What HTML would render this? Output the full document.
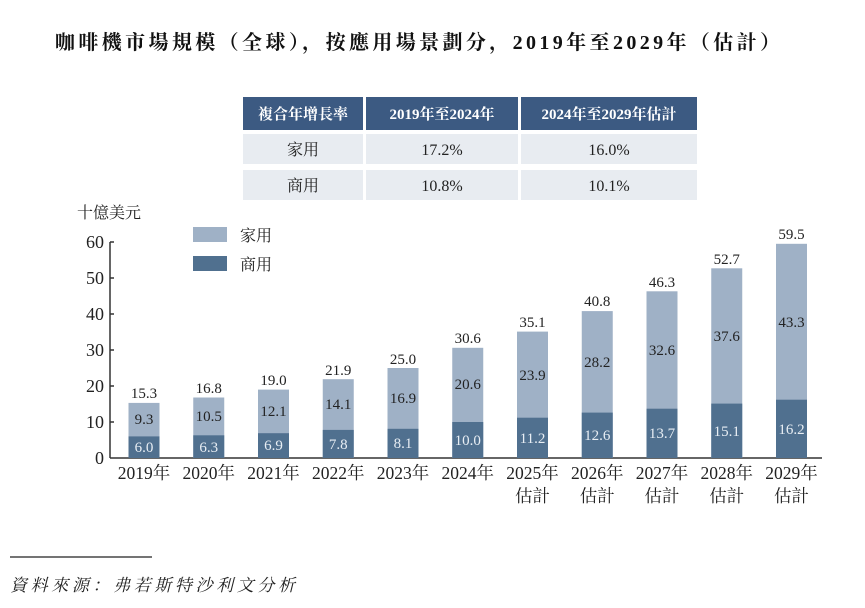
<!DOCTYPE html>
<html><head><meta charset="utf-8"><style>
body{margin:0;background:#fff;}
svg text{font-family:"Liberation Serif","Noto Serif CJK SC",serif;}
</style></head><body>
<svg width="865" height="603" xmlns="http://www.w3.org/2000/svg">
<text x="55" y="49" font-size="20" font-weight="bold" fill="#111" textLength="725" lengthAdjust="spacing">咖啡機市場規模（全球），按應用場景劃分，2019年至2029年（估計）</text>
<!-- table -->
<rect x="243" y="97" width="120" height="33" fill="#3c5a82"/>
<rect x="366" y="97" width="152" height="33" fill="#3c5a82"/>
<rect x="521" y="97" width="176" height="33" fill="#3c5a82"/>
<g font-size="15" font-weight="bold" fill="#fff" text-anchor="middle">
<text x="303" y="119">複合年增長率</text><text x="442" y="119">2019年至2024年</text><text x="609" y="119">2024年至2029年估計</text></g>
<rect x="243" y="134" width="120" height="30" fill="#e8ecf1"/>
<rect x="366" y="134" width="152" height="30" fill="#e8ecf1"/>
<rect x="521" y="134" width="176" height="30" fill="#e8ecf1"/>
<rect x="243" y="170" width="120" height="30" fill="#e8ecf1"/>
<rect x="366" y="170" width="152" height="30" fill="#e8ecf1"/>
<rect x="521" y="170" width="176" height="30" fill="#e8ecf1"/>
<g font-size="16" fill="#222" text-anchor="middle">
<text x="303" y="155">家用</text><text x="442" y="155">17.2%</text><text x="609" y="155">16.0%</text>
<text x="303" y="191">商用</text><text x="442" y="191">10.8%</text><text x="609" y="191">10.1%</text></g>
<!-- axis -->
<text x="77" y="218" font-size="16" fill="#222">十億美元</text>
<line x1="110" y1="242" x2="110" y2="458" stroke="#333" stroke-width="1.5"/>
<line x1="110" y1="458" x2="822" y2="458" stroke="#333" stroke-width="1.5"/>
<g stroke="#333" stroke-width="1.5"><line x1="110" y1="242" x2="114" y2="242"/><line x1="110" y1="278" x2="114" y2="278"/><line x1="110" y1="314" x2="114" y2="314"/><line x1="110" y1="350" x2="114" y2="350"/><line x1="110" y1="386" x2="114" y2="386"/><line x1="110" y1="422" x2="114" y2="422"/></g>
<g font-size="18" fill="#222" text-anchor="end">
<text x="104" y="248">60</text><text x="104" y="284">50</text><text x="104" y="320">40</text><text x="104" y="356">30</text><text x="104" y="392">20</text><text x="104" y="428">10</text><text x="104" y="464">0</text></g>
<!-- legend -->
<rect x="193" y="227" width="34" height="15" fill="#9fb1c6"/>
<rect x="193" y="256" width="34" height="15" fill="#50708f"/>
<text x="240" y="241" font-size="16" fill="#222">家用</text>
<text x="240" y="270" font-size="16" fill="#222">商用</text>
<!-- bars -->
<g fill="#9fb1c6">
<rect x="128.5" y="402.9" width="31" height="55.1"/>
<rect x="193.25" y="397.5" width="31" height="60.5"/>
<rect x="258" y="389.6" width="31" height="68.4"/>
<rect x="322.75" y="379.2" width="31" height="78.8"/>
<rect x="387.5" y="368" width="31" height="90"/>
<rect x="452.25" y="347.8" width="31" height="110.2"/>
<rect x="517" y="331.6" width="31" height="126.4"/>
<rect x="581.75" y="311.1" width="31" height="146.9"/>
<rect x="646.5" y="291.3" width="31" height="166.7"/>
<rect x="711.25" y="268.3" width="31" height="189.7"/>
<rect x="776" y="243.8" width="31" height="214.2"/>
</g>
<g fill="#50708f">
<rect x="128.5" y="436.4" width="31" height="21.6"/>
<rect x="193.25" y="435.3" width="31" height="22.7"/>
<rect x="258" y="433.2" width="31" height="24.8"/>
<rect x="322.75" y="429.9" width="31" height="28.1"/>
<rect x="387.5" y="428.8" width="31" height="29.2"/>
<rect x="452.25" y="422" width="31" height="36"/>
<rect x="517" y="417.7" width="31" height="40.3"/>
<rect x="581.75" y="412.6" width="31" height="45.4"/>
<rect x="646.5" y="408.7" width="31" height="49.3"/>
<rect x="711.25" y="403.6" width="31" height="54.4"/>
<rect x="776" y="399.7" width="31" height="58.3"/>
</g>
<g font-size="15" fill="#222" text-anchor="middle">
<text x="144" y="398">15.3</text><text x="208.75" y="393">16.8</text><text x="273.5" y="385">19.0</text><text x="338.25" y="375">21.9</text><text x="403" y="364">25.0</text><text x="467.75" y="343">30.6</text><text x="532.5" y="327">35.1</text><text x="597.25" y="306">40.8</text><text x="662" y="287">46.3</text><text x="726.75" y="264">52.7</text><text x="791.5" y="239">59.5</text>
<text x="144" y="424">9.3</text><text x="208.75" y="421">10.5</text><text x="273.5" y="416">12.1</text><text x="338.25" y="409">14.1</text><text x="403" y="403">16.9</text><text x="467.75" y="389">20.6</text><text x="532.5" y="380">23.9</text><text x="597.25" y="367">28.2</text><text x="662" y="355">32.6</text><text x="726.75" y="341">37.6</text><text x="791.5" y="327">43.3</text>
</g>
<g font-size="15" fill="#e8eef4" text-anchor="middle">
<text x="144" y="452">6.0</text><text x="208.75" y="452">6.3</text><text x="273.5" y="450">6.9</text><text x="338.25" y="449">7.8</text><text x="403" y="448">8.1</text><text x="467.75" y="445">10.0</text><text x="532.5" y="443">11.2</text><text x="597.25" y="440">12.6</text><text x="662" y="438">13.7</text><text x="726.75" y="436">15.1</text><text x="791.5" y="434">16.2</text>
</g>
<g font-size="17.5" fill="#222" text-anchor="middle">
<text x="144" y="479">2019年</text><text x="208.75" y="479">2020年</text><text x="273.5" y="479">2021年</text><text x="338.25" y="479">2022年</text><text x="403" y="479">2023年</text><text x="467.75" y="479">2024年</text><text x="532.5" y="479">2025年</text><text x="597.25" y="479">2026年</text><text x="662" y="479">2027年</text><text x="726.75" y="479">2028年</text><text x="791.5" y="479">2029年</text>
<text x="532.5" y="502">估計</text><text x="597.25" y="502">估計</text><text x="662" y="502">估計</text><text x="726.75" y="502">估計</text><text x="791.5" y="502">估計</text>
</g>
<line x1="10" y1="557" x2="152" y2="557" stroke="#222" stroke-width="1.2"/>
<text x="10" y="591" font-size="17" font-style="italic" fill="#222" textLength="285" lengthAdjust="spacing">資料來源：弗若斯特沙利文分析</text>
</svg>
</body></html>
